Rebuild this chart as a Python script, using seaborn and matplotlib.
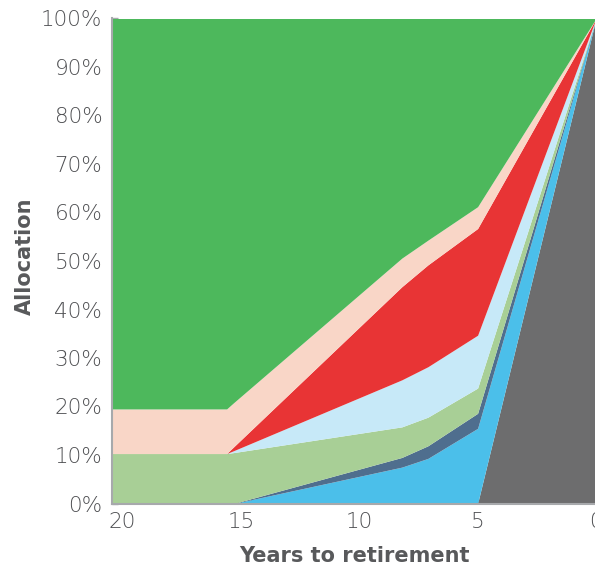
import numpy as np
import pandas as pd
import matplotlib
matplotlib.use('Agg')
import matplotlib.pyplot as plt
from matplotlib.ticker import MultipleLocator, FuncFormatter
import seaborn as sns

# years to retirement (x) and the cumulative top of each band (%)
years = [20.44, 15.6, 15.3, 8.2, 7.1, 5.0, 0.0]
top_gray = [0, 0, 0, 0, 0, 0, 100]
top_blue = [0, 0, 0, 7.5, 9.3, 15.5, 100]
top_navy = [0, 0, 0, 9.5, 11.9, 18.6, 100]
top_sage = [10.3, 10.3, 10.5, 15.8, 17.8, 23.8, 100]
top_sky = [10.3, 10.3, 10.9, 25.5, 28.2, 34.7, 100]
top_red = [10.3, 10.3, 11.7, 44.7, 49.2, 56.7, 100]
top_peach = [19.5, 19.5, 20.8, 50.6, 54.3, 61.2, 100]
top_green = [100, 100, 100, 100, 100, 100, 100]

band_names = ['gray', 'blue', 'navy', 'sage', 'sky', 'red', 'peach', 'green']
band_colors = ['#6d6d6e', '#4bbfea', '#4f6e8e', '#a8cf96', '#c7e9f8',
               '#e83435', '#f9d6c7', '#4db85c']

tops = pd.DataFrame({'gray': top_gray, 'blue': top_blue, 'navy': top_navy,
                     'sage': top_sage, 'sky': top_sky, 'red': top_red,
                     'peach': top_peach, 'green': top_green}, index=years)
bands = tops.diff(axis=1)
bands['gray'] = tops['gray']

sns.set_style('ticks')
plt.rcParams['font.family'] = ['DejaVu Sans']
text_col = '#4e4f52'
label_col = '#58595b'
spine_col = '#a7a9ac'

fig = plt.figure(figsize=(5.95, 5.69), dpi=100)
ax = fig.add_axes([112 / 595, 65.5 / 569, 484 / 595, 485 / 569])

ax.stackplot(bands.index, *[bands[n] for n in band_names],
             colors=sns.color_palette(band_colors), linewidth=0)

ax.set_xlim(20.44, 0)
ax.set_ylim(0, 100)
ax.set_xticks([20, 15, 10, 5, 0])
ax.xaxis.set_minor_locator(MultipleLocator(0.27))
ax.set_yticks(np.arange(0, 101, 10))
ax.yaxis.set_major_formatter(FuncFormatter(lambda v, p: '{:.0f}%'.format(v)))

sns.despine(ax=ax, top=True, right=True)
for side in ['left', 'bottom']:
    ax.spines[side].set_color(spine_col)
    ax.spines[side].set_linewidth(1.5)
    ax.spines[side].set_zorder(5)

ax.tick_params(axis='y', direction='in', length=4, width=1, color=spine_col,
               labelsize=15.5, labelcolor=text_col, pad=7)
ax.tick_params(axis='x', which='major', direction='in', length=4, width=1,
               color=spine_col, labelsize=15.5, labelcolor=text_col, pad=6)
ax.tick_params(axis='x', which='minor', direction='in', length=4, width=1,
               color=spine_col)
for lbl in ax.get_xticklabels() + ax.get_yticklabels():
    lbl.set_fontweight(200)

ax.set_xlabel('Years to retirement', fontsize=15, fontweight='bold',
              color=label_col, labelpad=10)
ax.set_ylabel('Allocation', fontsize=15, fontweight='bold',
              color=label_col, labelpad=4)
ax.yaxis.set_label_coords(-0.159, 0.51)

fig.savefig('out.png', dpi=100)
